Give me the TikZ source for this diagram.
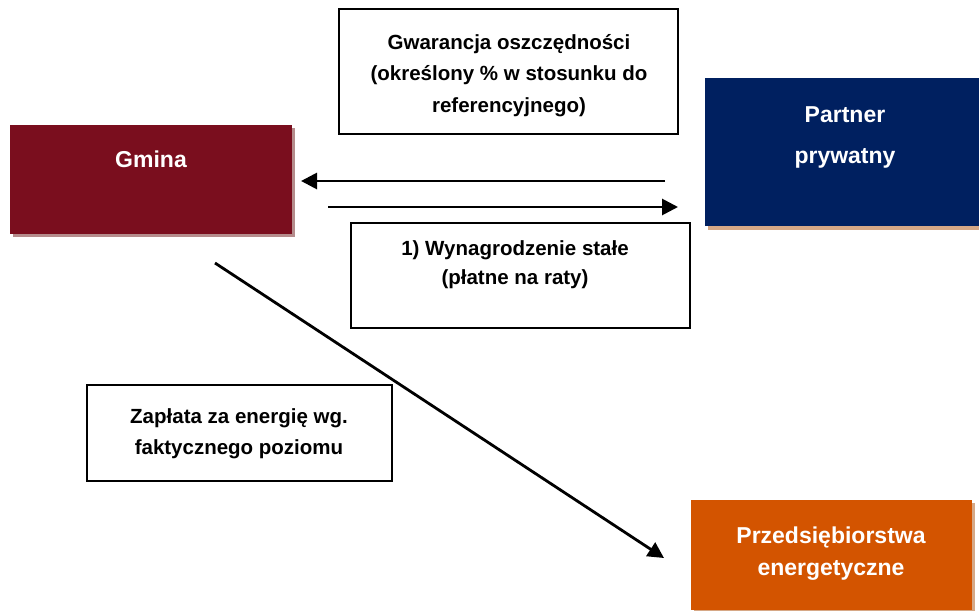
\documentclass[tikz,border=0pt]{standalone}
\usepackage{fontspec}
\setmainfont{Liberation Sans}
\usetikzlibrary{arrows.meta,shadows}
\definecolor{gminared}{HTML}{7A0E1E}
\definecolor{gminashadow}{HTML}{B58C8C}
\definecolor{navy}{HTML}{002060}
\definecolor{orangebox}{HTML}{D35400}
\definecolor{tanshadow}{HTML}{D6A886}
\tikzset{
  bigbox/.style={draw=none, inner sep=0pt, minimum width=#1},
  txtbox/.style={draw=black, line width=1.4pt, fill=white, inner sep=0pt},
  title/.style={anchor=base, text=white, font=\fontsize{23}{27}\selectfont\bfseries, inner sep=0pt},
  small/.style={anchor=base, text=black, font=\fontsize{20.5}{25}\selectfont\bfseries, inner sep=0pt},
  arr/.style={line width=2.8pt, -{Triangle[length=16pt,width=16pt]}},
}
\begin{document}
\begin{tikzpicture}[x=1pt,y=-1pt]
\useasboundingbox (0,0) rectangle (979,610);
\fill[white] (0,0) rectangle (979,610);
% main boxes
\node[bigbox=282pt, minimum height=109pt, fill=gminared,
  drop shadow={shadow xshift=3pt, shadow yshift=-3pt, fill=gminashadow, opacity=1}] (gmina) at (151,179.5) {};
\node[bigbox=274pt, minimum height=148pt, fill=navy,
  drop shadow={shadow xshift=3pt, shadow yshift=-4pt, fill=tanshadow, opacity=1}] (partner) at (842,152) {};
\node[bigbox=281pt, minimum height=110pt, fill=orangebox,
  drop shadow={shadow xshift=3pt, shadow yshift=-3pt, fill=tanshadow, opacity=1}] (energ) at (831.5,555) {};
\node[title] (tg) at (151,167) {Gmina};
\node[title] (tp1) at (845,122) {Partner};
\node[title] (tp2) at (845,163) {prywatny};
\node[title] (te1) at (831,543) {Przedsiębiorstwa};
\node[title] (te2) at (831,575) {energetyczne};
% text boxes
\node[txtbox, minimum width=339pt, minimum height=125pt] (gwar) at (508.5,71.5) {};
\node[small] (g1) at (509,50) {Gwarancja oszczędności};
\node[small] (g2) at (509,81) {(określony \% w stosunku do};
\node[small] (g3) at (509,112) {referencyjnego)};
\node[txtbox, minimum width=339pt, minimum height=105pt] (wyn) at (520.5,275.5) {};
\node[small] (w1) at (515,255) {1) Wynagrodzenie stałe};
\node[small] (w2) at (515,284) {(płatne na raty)};
\node[txtbox, minimum width=305pt, minimum height=96pt] (zap) at (239.5,433) {};
\node[small] (z1) at (239,423) {Zapłata za energię wg.};
\node[small] (z2) at (239,454) {faktycznego poziomu};
% connectors
\coordinate (a1s) at (665,181);
\coordinate (a1e) at (301,181);
\coordinate (a2s) at (328,207);
\coordinate (a2e) at (678,207);
\coordinate (a3s) at (215,263);
\coordinate (a3e) at (664,558);
\draw[arr] (a1s) -- (a1e);
\draw[arr] (a2s) -- (a2e);
\draw[arr] (a3s) -- (a3e);
\end{tikzpicture}
\end{document}
